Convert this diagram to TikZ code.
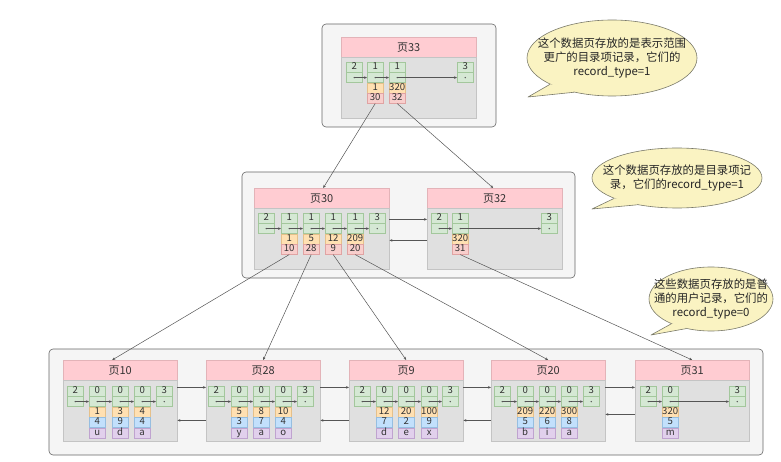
\documentclass[tikz,border=0pt]{standalone}
\usepackage{fontspec}
\setmainfont{Noto Sans CJK SC}
\usetikzlibrary{arrows.meta,shapes.geometric,calc}
\definecolor{outf}{HTML}{F5F5F5}
\definecolor{outd}{HTML}{666666}
\definecolor{hdrf}{HTML}{FFCCD2}
\definecolor{hdrd}{HTML}{E3B3B8}
\definecolor{bdyf}{HTML}{E0E0E0}
\definecolor{bdyd}{HTML}{C4C4C4}
\definecolor{grf}{HTML}{D5E8D4}
\definecolor{grd}{HTML}{A3C79C}
\definecolor{yef}{HTML}{FFE0B2}
\definecolor{yed}{HTML}{E5C08A}
\definecolor{pkf}{HTML}{F8CECC}
\definecolor{pkd}{HTML}{E0A3A3}
\definecolor{blf}{HTML}{C2E0FC}
\definecolor{bld}{HTML}{96BEE0}
\definecolor{puf}{HTML}{E1D0EC}
\definecolor{pud}{HTML}{BFA3CF}
\definecolor{calf}{HTML}{FAF3C2}
\definecolor{cald}{HTML}{7A7A6A}
\definecolor{lnc}{HTML}{555555}
\newcommand\cellfont{\fontsize{9.6}{10}\selectfont}
\newcommand\pg[5]{%
  \node[hdr, minimum width=#4, anchor=north west] (#1h) at (#2,#3) {#5};
  \node[bdy, minimum width=#4, anchor=north] (#1b) at (#1h.south) {};}
\newcommand\rc[4]{%
  \node[gc, anchor=north west] (#1t) at (#2,#3) {#4};
  \node[gc, anchor=north] (#1b) at (#1t.south) {};
  \fill[lnc] (#1b.center) circle (0.8pt);}
\newcommand\ec[4]{\node[#1, anchor=north] (#2) at (#3.south) {#4};}
\newcommand\lk[2]{\draw[ptr] (#1b.center) -- (#2b.west);}
\begin{document}
\begin{tikzpicture}[x=1pt,y=-1pt,
  outer/.style={draw=outd, fill=outf, rounded corners=4pt, line width=0.6pt},
  hdr/.style={draw=hdrd, fill=hdrf, minimum height=20, inner sep=0, font=\fontsize{11}{11}\selectfont, text=black!80},
  bdy/.style={draw=bdyd, fill=bdyf, minimum height=61, inner sep=0},
  cellb/.style={minimum width=16, minimum height=10, inner sep=0, text height=6.6pt, text depth=1.8pt, font=\cellfont, text=black!80},
  gc/.style={cellb, draw=grd, fill=grf},
  yc/.style={cellb, draw=yed, fill=yef},
  pc/.style={cellb, draw=pkd, fill=pkf},
  bc/.style={cellb, draw=bld, fill=blf},
  uc/.style={cellb, draw=pud, fill=puf},
  ptr/.style={draw=lnc, line width=0.5pt, -{Stealth[length=3pt,width=2.6pt]}},
  callout/.style={ellipse, draw=cald, fill=calf, line width=0.6pt, inner sep=0},
  ctext/.style={font=\fontsize{11.4}{14}\selectfont, align=center, text=black!85},
  ]
\useasboundingbox (0,0) rectangle (781,462);

% ---------- outer boxes ----------
\draw[outer] (322,24) rectangle (496,127);
\draw[outer] (242,172) rectangle (575,278);
\draw[outer] (49,349) rectangle (763,455);

% ---------- page 33 ----------
\pg{pA}{341}{37}{135}{页33}
\rc{pAa}{346}{62}{2}
\rc{pAb}{367}{62}{1}
\rc{pAc}{389}{62}{1}
\rc{pAd}{457}{62}{3}
\ec{yc}{pAby}{pAbb}{1}
\ec{pc}{pAbp}{pAby}{30}
\ec{yc}{pAcy}{pAcb}{320}
\ec{pc}{pAcp}{pAcy}{32}
\lk{pAa}{pAb}\lk{pAb}{pAc}\lk{pAc}{pAd}

% ---------- page 30 ----------
\pg{pB}{254}{188}{135}{页30}
\rc{pBa}{258}{213}{2}
\rc{pBb}{281}{213}{1}
\rc{pBc}{303}{213}{1}
\rc{pBd}{325}{213}{1}
\rc{pBe}{347}{213}{1}
\rc{pBf}{369}{213}{3}
\ec{yc}{pBby}{pBbb}{1}\ec{pc}{pBbp}{pBby}{10}
\ec{yc}{pBcy}{pBcb}{5}\ec{pc}{pBcp}{pBcy}{28}
\ec{yc}{pBdy}{pBdb}{12}\ec{pc}{pBdp}{pBdy}{9}
\ec{yc}{pBey}{pBeb}{209}\ec{pc}{pBep}{pBey}{20}
\lk{pBa}{pBb}\lk{pBb}{pBc}\lk{pBc}{pBd}\lk{pBd}{pBe}\lk{pBe}{pBf}

% ---------- page 32 ----------
\pg{pC}{427}{188}{135}{页32}
\rc{pCa}{431}{213}{2}
\rc{pCb}{452}{213}{1}
\rc{pCc}{541}{213}{3}
\ec{yc}{pCby}{pCbb}{320}\ec{pc}{pCbp}{pCby}{31}
\lk{pCa}{pCb}\lk{pCb}{pCc}

\draw[ptr] ([yshift=-11]pBb.north east) -- ([yshift=-11]pCb.north west);
\draw[ptr] ([yshift=-32]pCb.north west) -- ([yshift=-32]pBb.north east);

% ---------- page 10 ----------
\pg{pD}{63}{360}{114}{页10}
\rc{pDa}{67}{386}{2}
\rc{pDb}{89}{386}{0}
\rc{pDc}{112}{386}{0}
\rc{pDd}{134}{386}{0}
\rc{pDe}{156}{386}{3}
\ec{yc}{pDby}{pDbb}{1}\ec{bc}{pDbl}{pDby}{4}\ec{uc}{pDbu}{pDbl}{u}
\ec{yc}{pDcy}{pDcb}{3}\ec{bc}{pDcl}{pDcy}{9}\ec{uc}{pDcu}{pDcl}{d}
\ec{yc}{pDdy}{pDdb}{4}\ec{bc}{pDdl}{pDdy}{4}\ec{uc}{pDdu}{pDdl}{a}
\lk{pDa}{pDb}\lk{pDb}{pDc}\lk{pDc}{pDd}\lk{pDd}{pDe}

% ---------- page 28 ----------
\pg{pE}{206}{360}{114}{页28}
\rc{pEa}{208}{386}{2}
\rc{pEb}{231}{386}{0}
\rc{pEc}{253}{386}{0}
\rc{pEd}{275}{386}{0}
\rc{pEe}{297}{386}{3}
\ec{yc}{pEby}{pEbb}{5}\ec{bc}{pEbl}{pEby}{3}\ec{uc}{pEbu}{pEbl}{y}
\ec{yc}{pEcy}{pEcb}{8}\ec{bc}{pEcl}{pEcy}{7}\ec{uc}{pEcu}{pEcl}{a}
\ec{yc}{pEdy}{pEdb}{10}\ec{bc}{pEdl}{pEdy}{4}\ec{uc}{pEdu}{pEdl}{o}
\lk{pEa}{pEb}\lk{pEb}{pEc}\lk{pEc}{pEd}\lk{pEd}{pEe}

% ---------- page 9 ----------
\pg{pF}{349}{360}{114}{页9}
\rc{pFa}{354}{386}{2}
\rc{pFb}{376}{386}{0}
\rc{pFc}{398}{386}{0}
\rc{pFd}{421}{386}{0}
\rc{pFe}{442}{386}{3}
\ec{yc}{pFby}{pFbb}{12}\ec{bc}{pFbl}{pFby}{7}\ec{uc}{pFbu}{pFbl}{d}
\ec{yc}{pFcy}{pFcb}{20}\ec{bc}{pFcl}{pFcy}{2}\ec{uc}{pFcu}{pFcl}{e}
\ec{yc}{pFdy}{pFdb}{100}\ec{bc}{pFdl}{pFdy}{9}\ec{uc}{pFdu}{pFdl}{x}
\lk{pFa}{pFb}\lk{pFb}{pFc}\lk{pFc}{pFd}\lk{pFd}{pFe}

% ---------- page 20 ----------
\pg{pG}{491}{360}{114}{页20}
\rc{pGa}{494}{386}{2}
\rc{pGb}{517}{386}{0}
\rc{pGc}{539}{386}{0}
\rc{pGd}{561}{386}{0}
\rc{pGe}{583}{386}{3}
\ec{yc}{pGby}{pGbb}{209}\ec{bc}{pGbl}{pGby}{5}\ec{uc}{pGbu}{pGbl}{b}
\ec{yc}{pGcy}{pGcb}{220}\ec{bc}{pGcl}{pGcy}{6}\ec{uc}{pGcu}{pGcl}{i}
\ec{yc}{pGdy}{pGdb}{300}\ec{bc}{pGdl}{pGdy}{8}\ec{uc}{pGdu}{pGdl}{a}
\lk{pGa}{pGb}\lk{pGb}{pGc}\lk{pGc}{pGd}\lk{pGd}{pGe}

% ---------- page 31 ----------
\pg{pH}{635}{360}{114}{页31}
\rc{pHa}{640}{386}{2}
\rc{pHb}{662}{386}{0}
\rc{pHc}{729}{386}{3}
\ec{yc}{pHby}{pHbb}{320}\ec{bc}{pHbl}{pHby}{5}\ec{uc}{pHbu}{pHbl}{m}
\lk{pHa}{pHb}\lk{pHb}{pHc}

% ---------- sibling links bottom ----------
\draw[ptr] ([yshift=-7]pDb.north east) -- ([yshift=-7]pEb.north west);
\draw[ptr] ([yshift=-40]pEb.north west) -- ([yshift=-40]pDb.north east);
\draw[ptr] ([yshift=-7]pEb.north east) -- ([yshift=-7]pFb.north west);
\draw[ptr] ([yshift=-40]pFb.north west) -- ([yshift=-40]pEb.north east);
\draw[ptr] ([yshift=-7]pFb.north east) -- ([yshift=-7]pGb.north west);
\draw[ptr] ([yshift=-40]pGb.north west) -- ([yshift=-40]pFb.north east);
\draw[ptr] ([yshift=-7]pGb.north east) -- ([yshift=-7]pHb.north west);
\draw[ptr] ([yshift=-34]pHb.north west) -- ([yshift=-34]pGb.north east);

% ---------- child pointers ----------
\draw[ptr] (pAbp.south) -- ([xshift=1.5]pBh.north);
\draw[ptr] (pAcp.south) -- ([xshift=-1.5]pCh.north);
\draw[ptr] (pBbp.south) -- ([xshift=-8]pDh.north);
\draw[ptr] (pBcp.south) -- (pEh.north);
\draw[ptr] (pBdp.south) -- (pFh.north);
\draw[ptr] (pBep.south) -- (pGh.north);
\draw[ptr] (pCbp.south) -- (pHh.north);

% ---------- callouts ----------
\node[callout, minimum width=170, minimum height=76] (c1) at (612,58) {};
\coordinate (t1) at (528,97);
\fill[calf] (c1.203) -- (t1) -- (c1.222) -- ($(c1.center)!0.85!(c1.212)$) -- cycle;
\draw[cald, line width=0.6pt, line join=round] (c1.203) -- (t1) -- (c1.222);
\node[ctext] (c1t) at (c1.center) {这个数据页存放的是表示范围\\更广的目录项记录，它们的\\record\_type=1};

\node[callout, minimum width=170, minimum height=60] (c2) at (677,178) {};
\coordinate (t2) at (592,209);
\fill[calf] (c2.198) -- (t2) -- (c2.214) -- ($(c2.center)!0.85!(c2.206)$) -- cycle;
\draw[cald, line width=0.6pt, line join=round] (c2.198) -- (t2) -- (c2.214);
\node[ctext] (c2t) at (c2.center) {这个数据页存放的是目录项记\\录，它们的record\_type=1};

\node[callout, minimum width=124, minimum height=64] (c3) at (711,299) {};
\coordinate (t3) at (651,335);
\fill[calf] (c3.212) -- (t3) -- (c3.230) -- ($(c3.center)!0.85!(c3.221)$) -- cycle;
\draw[cald, line width=0.6pt, line join=round] (c3.212) -- (t3) -- (c3.230);
\node[ctext] (c3t) at (c3.center) {这些数据页存放的是普\\通的用户记录，它们的\\record\_type=0};
\end{tikzpicture}
\end{document}
